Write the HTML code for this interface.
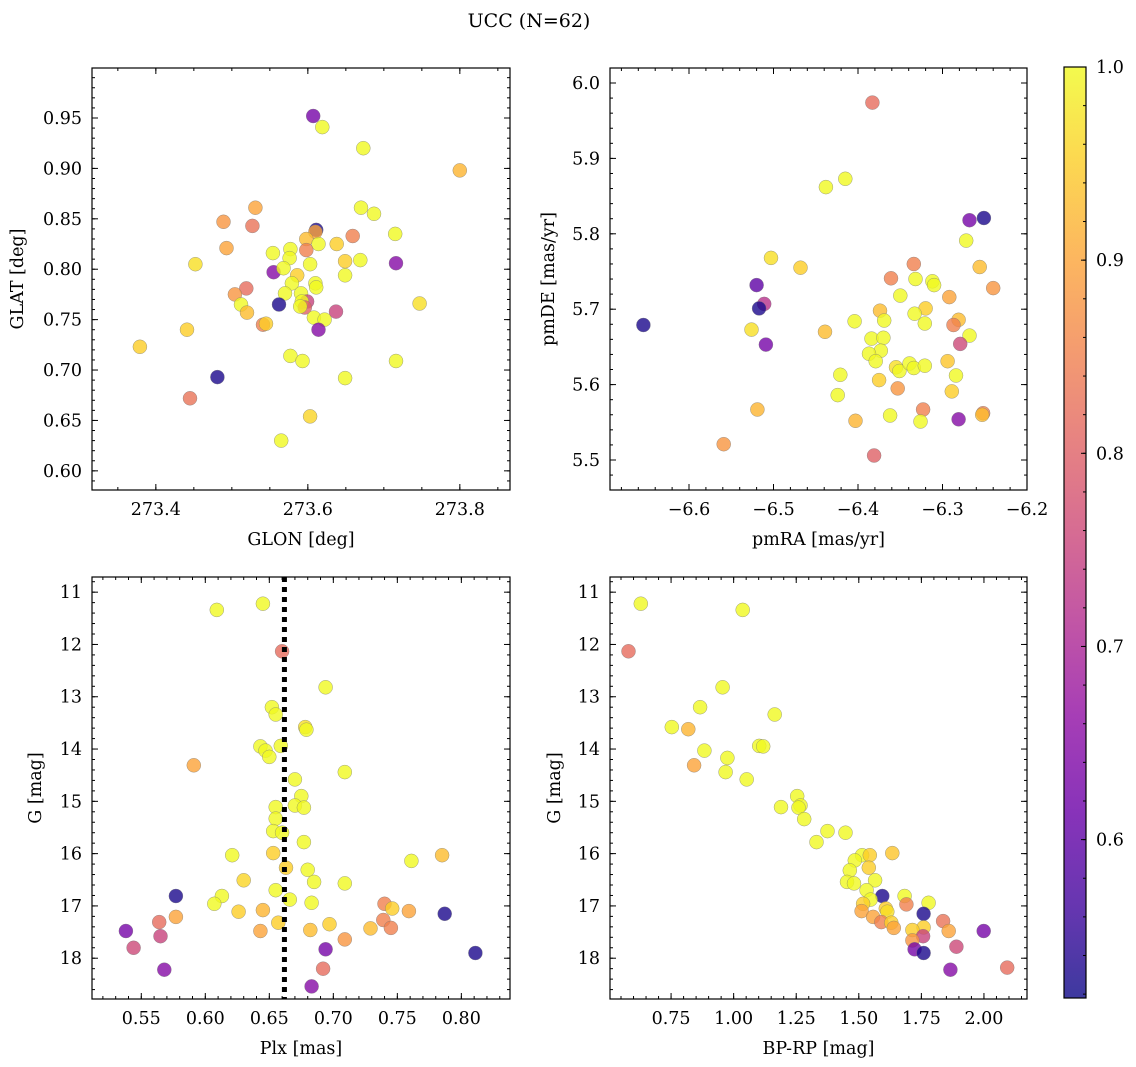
<!DOCTYPE html>
<html><head><meta charset="utf-8">
<style>
html,body{margin:0;padding:0;background:#fff;}
svg{display:block;font-family:"DejaVu Serif","Liberation Serif",serif;}
</style></head>
<body>
<svg id="fig" width="1136" height="1067" viewBox="0 0 1136 1067" xmlns="http://www.w3.org/2000/svg">
<defs>
<linearGradient id="plasma" x1="0" y1="1" x2="0" y2="0">
<stop offset="0" stop-color="#0d0887"/><stop offset="0.1" stop-color="#41049d"/><stop offset="0.2" stop-color="#6a00a8"/><stop offset="0.3" stop-color="#8f0da4"/><stop offset="0.4" stop-color="#b12a90"/><stop offset="0.5" stop-color="#cc4778"/><stop offset="0.6" stop-color="#e16462"/><stop offset="0.7" stop-color="#f2844b"/><stop offset="0.8" stop-color="#fca636"/><stop offset="0.9" stop-color="#fcce25"/><stop offset="1" stop-color="#f0f921"/>
</linearGradient>
</defs>
<text x="529" y="27" font-size="19" text-anchor="middle">UCC (N=62)</text>
</svg>
<script>
// ---- Panel 1: GLON vs GLAT
const p1_glon=[273.607,273.619,273.673,273.800,273.531,273.489,273.527,273.611,273.610,273.670,273.687,273.715,273.659,273.598,273.614,273.638,273.493,273.598,273.577,273.554,273.576,273.452,273.603,273.649,273.669,273.716,273.555,273.568,273.586,273.649,273.610,273.611,273.579,273.519,273.504,273.570,273.591,273.599,273.592,273.562,273.512,273.596,273.590,273.747,273.637,273.520,273.608,273.622,273.541,273.545,273.614,273.441,273.379,273.577,273.593,273.716,273.481,273.649,273.445,273.603,273.565];
const p1_glat=[0.952,0.941,0.920,0.898,0.861,0.847,0.843,0.839,0.837,0.861,0.855,0.835,0.833,0.830,0.825,0.825,0.821,0.819,0.820,0.816,0.811,0.805,0.805,0.808,0.809,0.806,0.797,0.801,0.794,0.794,0.786,0.782,0.786,0.781,0.775,0.776,0.776,0.768,0.768,0.765,0.765,0.762,0.763,0.766,0.758,0.757,0.752,0.750,0.745,0.746,0.740,0.740,0.723,0.714,0.709,0.709,0.693,0.692,0.672,0.654,0.630];
const p1_prob=[0.63,1,1,0.92,0.9,0.88,0.83,0.53,0.9,1,1,1,0.85,0.93,1,0.95,0.9,0.85,1,1,1,0.97,1,0.95,1,0.65,0.65,1,0.95,1,1,1,1,0.82,0.88,1,1,0.75,1,0.53,1,0.8,1,0.97,0.75,0.93,1,1,0.85,0.95,0.65,0.95,0.95,1,1,1,0.53,1,0.83,0.96,1];
// ---- Panel 2: pmRA vs pmDE
const p2_pmra=[-6.383,-6.438,-6.415,-6.268,-6.251,-6.272,-6.503,-6.468,-6.256,-6.334,-6.361,-6.332,-6.312,-6.310,-6.240,-6.520,-6.350,-6.292,-6.511,-6.517,-6.320,-6.374,-6.333,-6.654,-6.404,-6.369,-6.321,-6.281,-6.287,-6.526,-6.439,-6.509,-6.268,-6.279,-6.384,-6.370,-6.373,-6.387,-6.379,-6.355,-6.351,-6.339,-6.334,-6.321,-6.294,-6.421,-6.284,-6.375,-6.353,-6.424,-6.289,-6.519,-6.323,-6.252,-6.253,-6.281,-6.362,-6.326,-6.403,-6.559,-6.381];
const p2_pmde=[5.974,5.862,5.873,5.818,5.821,5.791,5.768,5.755,5.756,5.760,5.741,5.740,5.737,5.732,5.728,5.732,5.718,5.716,5.707,5.701,5.701,5.698,5.694,5.679,5.684,5.685,5.681,5.686,5.679,5.673,5.670,5.653,5.665,5.654,5.661,5.662,5.645,5.641,5.631,5.623,5.618,5.628,5.622,5.625,5.631,5.613,5.612,5.606,5.595,5.586,5.591,5.567,5.567,5.562,5.560,5.554,5.559,5.551,5.552,5.521,5.506];
const p2_prob=[0.82,1,1,0.63,0.53,1,0.97,0.95,0.93,0.85,0.85,1,1,1,0.88,0.6,1,0.9,0.72,0.53,0.95,0.93,1,0.53,1,1,1,0.93,0.85,0.97,0.93,0.63,1,0.76,1,1,1,1,1,0.97,1,1,1,1,0.94,1,1,0.95,0.88,1,0.95,0.92,0.85,0.85,0.93,0.65,1,1,0.92,0.88,0.8];
// ---- Panel 3: Plx vs G
const p3_plx=[0.609,0.645,0.660,0.694,0.652,0.655,0.678,0.679,0.643,0.647,0.650,0.659,0.591,0.709,0.670,0.675,0.670,0.677,0.655,0.655,0.653,0.660,0.677,0.621,0.653,0.785,0.761,0.663,0.680,0.630,0.685,0.709,0.655,0.577,0.613,0.607,0.666,0.683,0.740,0.746,0.626,0.645,0.759,0.787,0.577,0.564,0.739,0.657,0.697,0.729,0.745,0.538,0.643,0.682,0.565,0.709,0.544,0.694,0.811,0.568,0.692,0.683];
const p3_g=[11.34,11.22,12.13,12.82,13.20,13.34,13.58,13.63,13.95,14.03,14.15,13.94,14.31,14.44,14.58,14.90,15.08,15.12,15.11,15.33,15.57,15.60,15.78,16.03,15.99,16.03,16.14,16.27,16.31,16.51,16.54,16.57,16.70,16.81,16.81,16.96,16.88,16.94,16.96,17.05,17.11,17.08,17.10,17.15,17.21,17.31,17.27,17.32,17.35,17.43,17.42,17.48,17.48,17.46,17.58,17.64,17.80,17.83,17.90,18.22,18.20,18.54];
const p3_prob=[1,1,0.82,1,1,1,0.97,1,1,1,1,1,0.9,1,1,1,1,1,1,1,1,1,1,1,0.95,0.93,1,0.95,1,0.96,1,1,1,0.53,1,1,1,1,0.85,0.95,0.95,0.92,0.9,0.53,0.9,0.82,0.85,0.95,0.95,0.93,0.85,0.63,0.9,0.93,0.75,0.88,0.76,0.63,0.53,0.65,0.82,0.65];
const p3_plx_median=[0.6618];
// ---- Panel 4: BP-RP vs G
const p4_bprp=[0.629,1.036,0.580,0.956,0.866,1.164,0.753,0.819,0.883,1.102,1.118,0.975,0.842,0.968,1.052,1.254,1.267,1.259,1.189,1.282,1.375,1.447,1.331,1.634,1.513,1.544,1.484,1.540,1.464,1.565,1.453,1.481,1.531,1.594,1.683,1.547,1.690,1.779,1.517,1.608,1.614,1.511,1.759,1.557,1.590,1.837,1.630,1.640,1.759,1.714,1.859,1.999,1.757,1.714,1.890,1.723,1.759,1.866,2.093];
const p4_g=[11.22,11.34,12.13,12.82,13.20,13.34,13.58,13.62,14.03,13.94,13.95,14.17,14.31,14.44,14.58,14.90,15.08,15.12,15.11,15.34,15.57,15.60,15.78,15.99,16.03,16.03,16.13,16.27,16.32,16.51,16.54,16.57,16.70,16.81,16.81,16.88,16.97,16.94,16.96,17.05,17.11,17.10,17.15,17.21,17.31,17.29,17.32,17.42,17.41,17.46,17.48,17.48,17.58,17.66,17.78,17.83,17.90,18.22,18.18];
const p4_prob=[1,1,0.82,1,1,1,1,0.92,1,1,1,1,0.9,1,1,1,1,1,1,1,1,1,1,0.94,1,0.95,1,0.95,1,1,1,1,1,0.53,1,1,0.85,1,0.95,0.95,0.97,0.9,0.53,0.9,0.85,0.83,0.95,0.9,0.95,0.95,0.9,0.63,0.75,0.88,0.76,0.63,0.53,0.65,0.82];
// ---- Colorbar
const cb_ticks=[0.6,0.7,0.8,0.9,1.0];
const cb_range=[0.518,1.0];

const NS="http://www.w3.org/2000/svg";
const svg=document.getElementById('fig');
const FS=17.5;
function mk(tag,attrs,parent){const e=document.createElementNS(NS,tag);for(const k in attrs)e.setAttribute(k,attrs[k]);(parent||svg).appendChild(e);return e;}
const stops=[[0,[13,8,135]],[0.1,[65,4,157]],[0.2,[106,0,168]],[0.3,[143,13,164]],[0.4,[177,42,144]],[0.5,[204,71,120]],[0.6,[225,100,98]],[0.7,[242,132,75]],[0.8,[252,166,54]],[0.9,[252,206,37]],[1,[240,249,33]]];
function plasma(t){t=Math.max(0,Math.min(1,t));for(let i=1;i<stops.length;i++){if(t<=stops[i][0]){const a=stops[i-1],b=stops[i];const f=(t-a[0])/(b[0]-a[0]);const c=a[1].map((v,j)=>Math.round(v+(b[1][j]-v)*f));return `rgb(${c[0]},${c[1]},${c[2]})`;}}return 'rgb(240,249,33)';}
function pcol(p){return plasma((p-cb_range[0])/(cb_range[1]-cb_range[0]));}
function fmt(v,d){let s=Math.abs(v).toFixed(d);return (v<-1e-9?'\u2212':'')+s;}
function range(a,b,s){const r=[];for(let v=a;v<=b+s*1e-6;v+=s)r.push(+v.toFixed(6));return r;}

function panel(cfg){
  const g=mk('g',{});
  
  
  const {L,T,R,B}=cfg;
  const sx=v=>L+(v-cfg.x0)/(cfg.x1-cfg.x0)*(R-L);
  const sy=cfg.invert?(v=>T+(v-cfg.y0)/(cfg.y1-cfg.y0)*(B-T)):(v=>B-(v-cfg.y0)/(cfg.y1-cfg.y0)*(B-T));
  const pg=mk('g',{},g);
  
  
  for(let i=0;i<cfg.xs.length;i++){
    const c=mk('circle',{cx:sx(cfg.xs[i]).toFixed(1),cy:sy(cfg.ys[i]).toFixed(1),r:7,fill:pcol(cfg.ps[i]),'fill-opacity':0.8,stroke:'#777','stroke-width':0.5,'stroke-opacity':0.7},pg);
    
    
  }
  if(cfg.vline!==undefined){
    const l=mk('line',{x1:sx(cfg.vline),x2:sx(cfg.vline),y1:T,y2:B,stroke:'#000','stroke-width':5,'stroke-dasharray':'5,5'},g);
    
    
  }
  const f=mk('rect',{x:L,y:T,width:R-L,height:B-T,fill:'none',stroke:'#000','stroke-width':1.2},g);
  
  
  const tg=mk('g',{stroke:'#000','stroke-width':1},g);
  for(const v of range(cfg.xmin0,cfg.x1,cfg.xmin)){const x=sx(v);if(x<L||x>R)continue;mk('line',{x1:x,x2:x,y1:B,y2:B-3},tg);mk('line',{x1:x,x2:x,y1:T,y2:T+3},tg);}
  for(const v of range(cfg.ymin0,Math.max(cfg.y0,cfg.y1),cfg.ymin)){const y=sy(v);if(y<T||y>B)continue;mk('line',{x1:L,x2:L+3,y1:y,y2:y},tg);mk('line',{x1:R,x2:R-3,y1:y,y2:y},tg);}
  for(const v of cfg.xt){const x=sx(v);mk('line',{x1:x,x2:x,y1:B,y2:B-6},tg);mk('line',{x1:x,x2:x,y1:T,y2:T+6},tg);
    const t=mk('text',{x:x,y:B+25,'font-size':FS,'text-anchor':'middle'},g);t.textContent=fmt(v,cfg.xd);
    }
  for(const v of cfg.yt){const y=sy(v);mk('line',{x1:L,x2:L+6,y1:y,y2:y},tg);mk('line',{x1:R,x2:R-6,y1:y,y2:y},tg);
    const t=mk('text',{x:L-10,y:y+6,'font-size':FS,'text-anchor':'end'},g);t.textContent=fmt(v,cfg.yd);
    }
  const xl=mk('text',{x:(L+R)/2,y:B+55,'font-size':FS,'text-anchor':'middle'},g);xl.textContent=cfg.xlabel;
  
  const yl=mk('text',{x:0,y:0,'font-size':FS,'text-anchor':'middle',transform:`translate(${cfg.ylx},${(T+B)/2}) rotate(-90)`},g);yl.textContent=cfg.ylabel;
  
}

panel({name:'glon-glat-panel',L:92,T:68,R:510,B:490,x0:273.316,x1:273.866,y0:0.581,y1:0.9996,xs:p1_glon,ys:p1_glat,ps:p1_prob,
  xt:[273.4,273.6,273.8],xd:1,xmin:0.05,xmin0:273.35,yt:[0.60,0.65,0.70,0.75,0.80,0.85,0.90,0.95],yd:2,ymin:0.01,ymin0:0.59,xlabel:'GLON [deg]',ylabel:'GLAT [deg]',ylx:23});
panel({name:'pm-panel',L:610,T:68,R:1027,B:490,x0:-6.6935,x1:-6.2,y0:5.4602,y1:6.0199,xs:p2_pmra,ys:p2_pmde,ps:p2_prob,
  xt:[-6.6,-6.5,-6.4,-6.3,-6.2],xd:1,xmin:0.02,xmin0:-6.68,yt:[5.5,5.6,5.7,5.8,5.9,6.0],yd:1,ymin:0.02,ymin0:5.46,xlabel:'pmRA [mas/yr]',ylabel:'pmDE [mas/yr]',ylx:554});
panel({name:'plx-g-panel',L:92,T:577,R:510,B:999,x0:0.5115,x1:0.838,y0:10.71,y1:18.78,invert:true,xs:p3_plx,ys:p3_g,ps:p3_prob,vline:p3_plx_median[0],
  xt:[0.55,0.60,0.65,0.70,0.75,0.80],xd:2,xmin:0.01,xmin0:0.52,yt:[11,12,13,14,15,16,17,18],yd:0,ymin:0.2,ymin0:10.8,xlabel:'Plx [mas]',ylabel:'G [mag]',ylx:41});
panel({name:'cmd-panel',L:610,T:577,R:1027,B:999,x0:0.506,x1:2.172,y0:10.71,y1:18.78,invert:true,xs:p4_bprp,ys:p4_g,ps:p4_prob,
  xt:[0.75,1.00,1.25,1.50,1.75,2.00],xd:2,xmin:0.05,xmin0:0.55,yt:[11,12,13,14,15,16,17,18],yd:0,ymin:0.2,ymin0:10.8,xlabel:'BP-RP [mag]',ylabel:'G [mag]',ylx:560});

(function(){
  const L=1064,R=1086,T=67,B=998;
  const g=mk('g',{});
  
  
  mk('rect',{x:L,y:T,width:R-L,height:B-T,fill:'url(#plasma)','fill-opacity':0.8},g);
  mk('rect',{x:L,y:T,width:R-L,height:B-T,fill:'none',stroke:'#000','stroke-width':1.2},g);
  const sy=v=>B-(v-cb_range[0])/(cb_range[1]-cb_range[0])*(B-T);
  for(const v of range(0.52,1.0,0.02)){mk('line',{x1:R,x2:R-3,y1:sy(v),y2:sy(v),stroke:'#000'},g);}
  for(const v of cb_ticks){const y=sy(v);mk('line',{x1:R,x2:R-5,y1:y,y2:y,stroke:'#000'},g);
    const t=mk('text',{x:R+10,y:y+6,'font-size':FS},g);t.textContent=v.toFixed(1);
    }
})();
</script>
</body></html>
